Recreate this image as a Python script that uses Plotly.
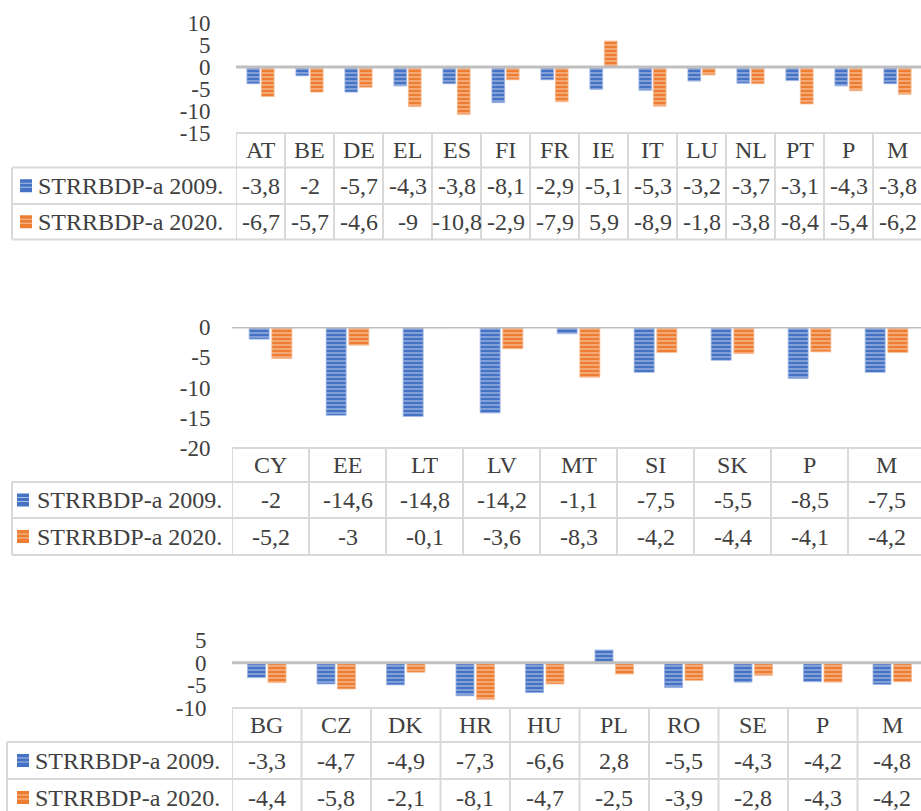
import plotly.graph_objects as go

W, H = 921, 811

SERIES = ["STRRBDP-a 2009.", "STRRBDP-a 2020."]
COLORS = ["#4472C4", "#ED7D31"]
EDGES = ["#9db4e3", "#f5b88e"]
STRIPE = "rgba(255,255,255,0.55)"
TEXT = "#404040"
GRID = "#d9d9d9"
FONT = "'Liberation Serif', 'Times New Roman', 'DejaVu Serif', serif"

# Panel 1
cat1 = ["AT", "BE", "DE", "EL", "ES", "FI", "FR", "IE", "IT", "LU", "NL", "PT", "P", "M"]
a1_2009 = [-3.8, -2, -5.7, -4.3, -3.8, -8.1, -2.9, -5.1, -5.3, -3.2, -3.7, -3.1, -4.3, -3.8]
a1_2020 = [-6.7, -5.7, -4.6, -9, -10.8, -2.9, -7.9, 5.9, -8.9, -1.8, -3.8, -8.4, -5.4, -6.2]
ticks1 = [10, 5, 0, -5, -10, -15]

# Panel 2
cat2 = ["CY", "EE", "LT", "LV", "MT", "SI", "SK", "P", "M"]
a2_2009 = [-2, -14.6, -14.8, -14.2, -1.1, -7.5, -5.5, -8.5, -7.5]
a2_2020 = [-5.2, -3, -0.1, -3.6, -8.3, -4.2, -4.4, -4.1, -4.2]
ticks2 = [0, -5, -10, -15, -20]

# Panel 3
cat3 = ["BG", "CZ", "DK", "HR", "HU", "PL", "RO", "SE", "P", "M"]
a3_2009 = [-3.3, -4.7, -4.9, -7.3, -6.6, 2.8, -5.5, -4.3, -4.2, -4.8]
a3_2020 = [-4.4, -5.8, -2.1, -8.1, -4.7, -2.5, -3.9, -2.8, -4.3, -4.2]
ticks3 = [5, 0, -5, -10]

# pixel geometry of each panel: plot left edge, column width, y range,
# pixel rows of range top / bottom, table row borders, label-cell left edge
panels = [
    dict(cats=cat1, vals=[a1_2009, a1_2020], ticks=ticks1, yr=[-15, 10],
         left=236, colw=49, ytop=23, rows=[133, 167.5, 204, 239.5], lab=12,
         sq=20, txt=36, ticklen=20),
    dict(cats=cat2, vals=[a2_2009, a2_2020], ticks=ticks2, yr=[-20, 0],
         left=232, colw=77, ytop=327, rows=[448, 482, 518, 555], lab=12,
         sq=17, txt=35, ticklen=16),
    dict(cats=cat3, vals=[a3_2009, a3_2020], ticks=ticks3, yr=[-10, 5],
         left=232, colw=69.5, ytop=640, rows=[708, 742, 779, 816], lab=7,
         sq=17, txt=33, ticklen=20),
]


def px(x):
    return x / W


def py(y):
    return 1 - y / H


def fmt(v):
    return f"{v:g}".replace(".", ",")


fig = go.Figure()
shapes = []
annotations = []
layout_axes = {}

for k, p in enumerate(panels, start=1):
    xa = "x" if k == 1 else f"x{k}"
    ya = "y" if k == 1 else f"y{k}"
    n = len(p["cats"])
    xmax = -0.5 + (W - p["left"]) / p["colw"]
    r = p["rows"]

    for s, (name, col) in enumerate(zip(SERIES, COLORS)):
        fig.add_trace(go.Bar(
            x=p["cats"], y=p["vals"][s], name=name, xaxis=xa, yaxis=ya,
            showlegend=False,
            marker=dict(color=col, line=dict(width=0.8, color=EDGES[s]),
                        pattern=dict(shape="-", fillmode="replace", bgcolor=col,
                                     fgcolor=STRIPE, size=4, solidity=0.3)),
        ))

    layout_axes["xaxis" if k == 1 else f"xaxis{k}"] = dict(
        domain=[px(p["left"]), 1], range=[-0.5, xmax], type="category",
        categoryorder="array", categoryarray=p["cats"], automargin=False,
        showticklabels=False, showgrid=False, zeroline=False, showline=False,
        anchor=ya, fixedrange=True,
    )
    layout_axes["yaxis" if k == 1 else f"yaxis{k}"] = dict(
        domain=[py(r[0]), py(p["ytop"])], range=p["yr"], automargin=False,
        tickmode="array", tickvals=p["ticks"], ticktext=[str(t) for t in p["ticks"]],
        ticks="outside", ticklen=p["ticklen"], tickcolor="rgba(0,0,0,0)",
        tickfont=dict(family=FONT, size=23, color=TEXT),
        showgrid=False, zeroline=False, showline=False, anchor=xa, fixedrange=True,
    )

    # zero line across the plot area
    shapes.append(dict(type="line", xref=f"{xa} domain", x0=0, x1=1, yref=ya, y0=0, y1=0,
                       line=dict(color="#bfbfbf", width=3), layer="above"))

    # data table grid
    line = dict(color=GRID, width=2)
    shapes.append(dict(type="line", xref="paper", yref="paper", x0=px(p["left"]), x1=1,
                       y0=py(r[0]), y1=py(r[0]), line=line))
    for yy in r[1:]:
        shapes.append(dict(type="line", xref="paper", yref="paper", x0=px(p["lab"]), x1=1,
                           y0=py(yy), y1=py(yy), line=line))
    shapes.append(dict(type="line", xref="paper", yref="paper", x0=px(p["lab"]), x1=px(p["lab"]),
                       y0=py(r[1]), y1=py(r[3]), line=line))
    for i in range(n + 1):
        shapes.append(dict(type="line", xref=xa, yref="paper", x0=i - 0.5, x1=i - 0.5,
                           y0=py(r[0]), y1=py(r[3]), line=line))

    # header row
    for c in p["cats"]:
        annotations.append(dict(xref=xa, yref="paper", x=c, y=py((r[0] + r[1]) / 2),
                                text=c, showarrow=False, xanchor="center", yanchor="middle",
                                font=dict(family=FONT, size=24, color=TEXT)))
    # series rows
    for s, (name, col) in enumerate(zip(SERIES, COLORS)):
        yc = (r[s + 1] + r[s + 2]) / 2
        shapes.append(dict(type="rect", xref="paper", yref="paper",
                           x0=px(p["sq"]), x1=px(p["sq"] + 12),
                           y0=py(yc - 6.5), y1=py(yc + 6.5),
                           fillcolor=col, line=dict(width=0)))
        for dy in (-2.5, 1.5):
            shapes.append(dict(type="line", xref="paper", yref="paper",
                               x0=px(p["sq"]), x1=px(p["sq"] + 12),
                               y0=py(yc + dy), y1=py(yc + dy),
                               line=dict(color=STRIPE, width=1)))
        annotations.append(dict(xref="paper", yref="paper", x=px(p["txt"]), y=py(yc),
                                text=name, showarrow=False, xanchor="left", yanchor="middle",
                                font=dict(family=FONT, size=24, color=TEXT)))
        for c, v in zip(p["cats"], p["vals"][s]):
            annotations.append(dict(xref=xa, yref="paper", x=c, y=py(yc),
                                    text=fmt(v), showarrow=False, xanchor="center",
                                    yanchor="middle",
                                    font=dict(family=FONT, size=24, color=TEXT)))

fig.update_layout(
    template="none",
    width=W, height=H, margin=dict(l=0, r=0, t=0, b=0, pad=0, autoexpand=False),
    paper_bgcolor="white", plot_bgcolor="white",
    barmode="group", bargap=0.41, bargroupgap=0.12,
    shapes=shapes, annotations=annotations, showlegend=False,
    **layout_axes,
)

fig.write_html("out.html")
